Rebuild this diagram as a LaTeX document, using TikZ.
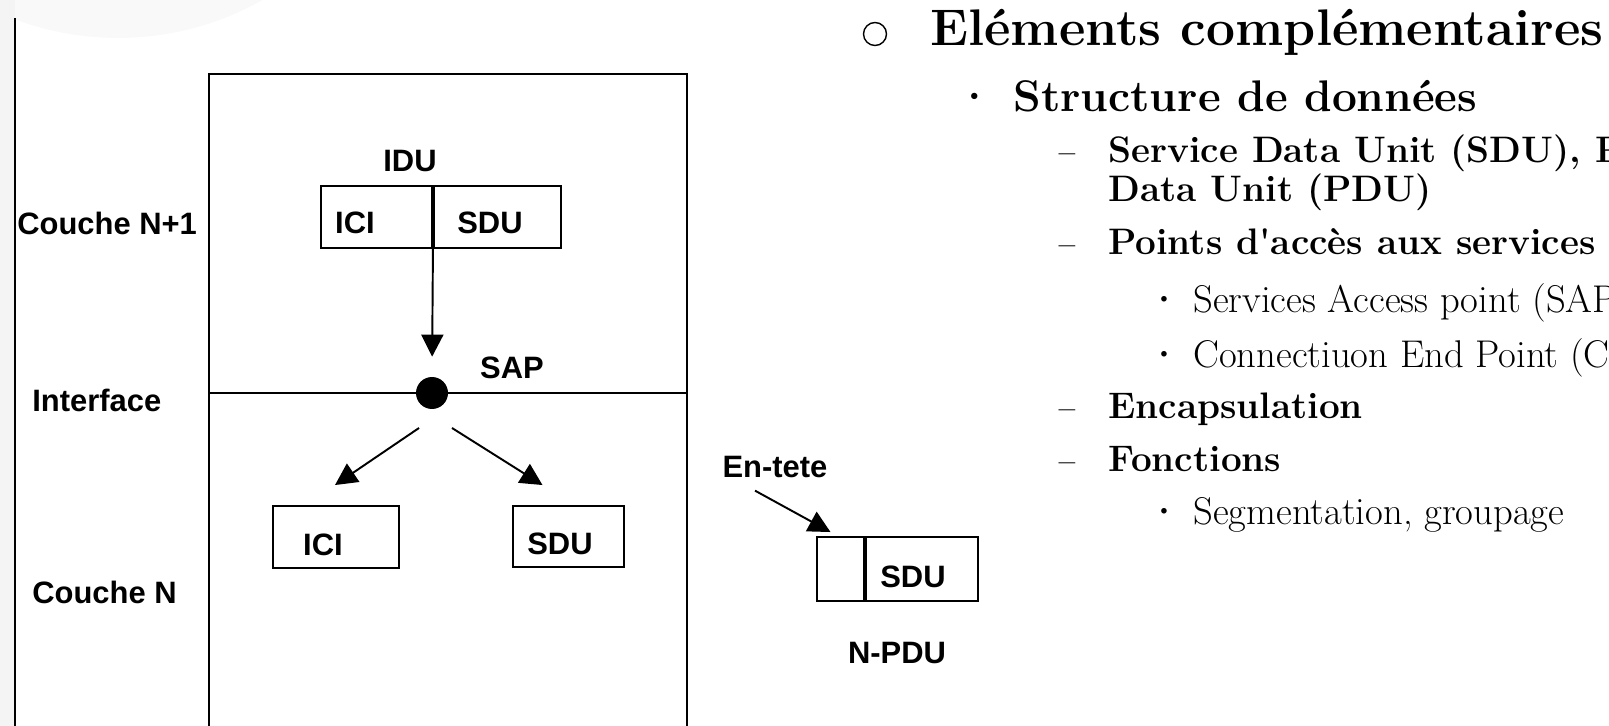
\documentclass[tikz,border=0pt]{standalone}
\usepackage{fontspec}
\newfontfamily\arialf{Liberation Sans}
\usetikzlibrary{arrows.meta,positioning}

\begin{document}
\begin{tikzpicture}[x=0.02cm, y=-0.02cm,
	ln/.style={line width=1.1pt},
	cell/.style={draw, line width=1.1pt, rectangle, inner sep=0pt},
	lbl/.style={inner sep=0pt, font=\arialf\bfseries\fontsize{17.6}{20}\selectfont},
	arr/.style={line width=1.1pt, -{Triangle[length=0.44cm, width=0.44cm]}},
	hd/.style={anchor=base west, inner sep=0pt, font=\bfseries\fontsize{29.3}{33}\selectfont},
	lvA/.style={anchor=base west, inner sep=0pt, font=\bfseries\fontsize{25.2}{29}\selectfont},
	lvB/.style={anchor=base west, inner sep=0pt, font=\bfseries\fontsize{21}{25}\selectfont},
	lvC/.style={anchor=base west, inner sep=0pt, font=\fontsize{22}{26}\selectfont},
	mk/.style={anchor=base, inner sep=0pt}]
		\useasboundingbox (0,0) rectangle (1609,726);
		% 背景
		\fill [gray!5] (118,-256) circle [radius=5.88cm];
		\fill [gray!9] (0,0) rectangle (15,726);
		% 外框
		\draw [ln] (15,18) -- (15,730);
		\draw [ln] (209,730) -- (209,74) -- (687,74) -- (687,730);
		\draw [ln] (209,393) -- (687,393);
		% 层
		\node [lbl, anchor=west] (cN1) at (17,223) {Couche N+1};
		\node [lbl, anchor=west] (cIf) at (32,400) {Interface};
		\node [lbl, anchor=west] (cN) at (32,592) {Couche N};
		% IDU
		\node [cell, minimum width=2.22cm, minimum height=1.24cm] (ici1) at (376.5,217) {};
		\node [cell, minimum width=2.54cm, minimum height=1.24cm, right=0pt of ici1] (sdu1) {};
		\node [lbl] (tIdu) at (410,161) {IDU};
		\node [lbl] (tIci1) at (355,223) {ICI};
		\node [lbl] (tSdu1) at (490,223) {SDU};
		% SAP
		\node [circle, fill=black, minimum size=0.64cm, inner sep=0pt] (sap) at (432,393) {};
		\node [lbl] (tSap) at (512,368) {SAP};
		% 下层
		\node [cell, minimum width=2.52cm, minimum height=1.24cm] (ici2) at (336,537) {};
		\node [cell, minimum width=2.22cm, minimum height=1.22cm] (sdu2) at (568.5,536.5) {};
		\node [lbl] (tIci2) at (323,545) {ICI};
		\node [lbl] (tSdu2) at (560,544) {SDU};
		% 箭头
		\draw [arr, shorten >=0.4cm] (ici1.south east) -- (sap.north);
		\draw [arr] ([xshift=-0.26cm, yshift=-0.7cm]sap.center) -- ([xshift=-0.02cm, yshift=0.4cm]ici2.north);
		\draw [arr] ([xshift=0.4cm, yshift=-0.7cm]sap.center) -- ([xshift=-0.52cm, yshift=0.4cm]sdu2.north);
		% N-PDU
		\node [cell, minimum width=0.94cm, minimum height=1.28cm] (hdr) at (840.5,569) {};
		\node [cell, minimum width=2.24cm, minimum height=1.28cm, right=0pt of hdr] (sdu3) {};
		\node [lbl] (tSdu3) at (913,577) {SDU};
		\node [lbl] (tNpdu) at (897,653) {N-PDU};
		\node [lbl] (tEnt) at (775,467) {En-tete};
		\draw [arr] ([xshift=-0.4cm, yshift=-0.25cm]tEnt.south) -- ([xshift=-0.2cm, yshift=0.08cm]hdr.north);
		% 文字
		\node [draw, circle, line width=0.8pt, minimum size=0.46cm, inner sep=0pt] (b0) at (875,34) {};
		\node [hd] (h0) at (930,46) {Eléments complémentaires};
		\node [mk, font=\bfseries\fontsize{25}{29}\selectfont] (d1) at (975,112) {·};
		\node [lvA] (s1) at (1013,112) {Structure de données};
		\foreach \yy/\nm in {163/m1, 255/m2, 418/m3, 471/m4}
			\node [mk, font=\bfseries\fontsize{17}{20}\selectfont] (\nm) at (1067,\yy) {–};
		\node [lvB] (s11) at (1108,163) {Service Data Unit (SDU), Protocol};
		\node [lvB] (s11b) at (1108,202) {Data Unit (PDU)};
		\node [lvB] (s12) at (1108,255) {Points d\textquotesingle accès aux services};
		\node [lvB] (s13) at (1108,418) {Encapsulation};
		\node [lvB] (s14) at (1108,471) {Fonctions};
		\foreach \yy/\nm in {313/p1, 367/p2, 524/p3}
			\node [mk, font=\bfseries\fontsize{22}{26}\selectfont] (\nm) at (1164,\yy) {·};
		\node [lvC] (s121) at (1193,313) {Services Access point (SAP)};
		\node [lvC] (s122) at (1193,367) {Connectiuon End Point (CEP)};
		\node [lvC] (s141) at (1193,524) {Segmentation, groupage};
	\end{tikzpicture}
\end{document}
